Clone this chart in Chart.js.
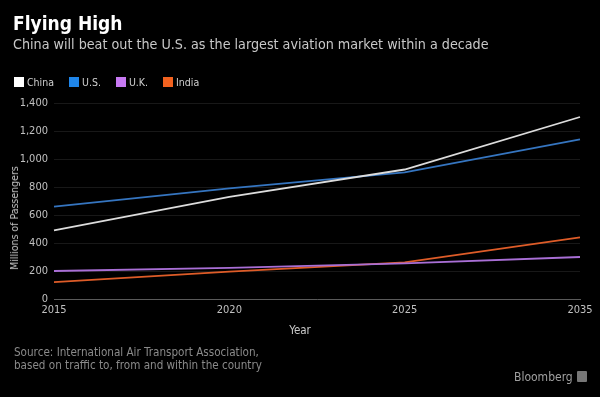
<!DOCTYPE html>
<html>
<head>
<meta charset="utf-8">
<script src="https://cdn.jsdelivr.net/npm/chart.js@4/dist/chart.umd.min.js"></script>
<style>
  html, body { margin:0; padding:0; background:#000; }
  #wrap { position:relative; width:600px; height:397px; background:#000; overflow:hidden;
          font-family:"DejaVu Sans Condensed","Open Sans",sans-serif; }
  #c { position:absolute; left:0; top:0; }
  .t { position:absolute; white-space:nowrap; }
  #title { left:13px; top:12px; font-size:19px; font-weight:bold; color:#fff; }
  #subtitle { left:13px; top:36px; font-size:14.2px; color:#c8c8c8; }
  #legend { left:14px; top:76px; font-size:10.5px; color:#d0d0d0; display:flex; }
  #legend .it { display:flex; align-items:center; margin-right:15px; }
  #legend .bx { width:10px; height:10px; margin-right:3px; }
  #ytitle { left:14px; top:218px; font-size:10.5px; color:#c8c8c8; transform:translate(-50%,-50%) rotate(-90deg); }
  #xtitle { left:300px; top:330px; font-size:11.5px; color:#c8c8c8; transform:translate(-50%,-50%); }
  #source { left:14px; top:346px; font-size:11.6px; line-height:13px; color:#8a8a8a; }
  #brand { left:514px; top:370px; font-size:12px; color:#a0a0a0; }
  #brand span { display:inline-block; width:10px; height:11px; background:#777; margin-left:4px; vertical-align:-1px; border-radius:1px; }
</style>
</head>
<body>
<div id="wrap">
  <canvas id="c" width="600" height="397"></canvas>
  <div class="t" id="title">Flying High</div>
  <div class="t" id="subtitle">China will beat out the U.S. as the largest aviation market within a decade</div>
  <div class="t" id="legend"></div>
  <div class="t" id="ytitle">Millions of Passengers</div>
  <div class="t" id="xtitle">Year</div>
  <div class="t" id="source">Source: International Air Transport Association,<br>based on traffic to, from and within the country</div>
  <div class="t" id="brand">Bloomberg<span></span></div>
</div>
<script>
const years = ["2015", "2020", "2025", "2035"];
const china = [490, 730, 925, 1300];
const us = [660, 790, 905, 1140];
const uk = [200, 222, 255, 300];
const india = [120, 195, 262, 440];
const seriesNames = ["China", "U.S.", "U.K.", "India"];
const lineColors = ["#dcdcdc", "#3575c0", "#a96fd6", "#de5c28"];
const boxColors = ["#ffffff", "#1f86ea", "#c779f2", "#f2621f"];
const yTicks = [0, 200, 400, 600, 800, 1000, 1200, 1400];

const values = [china, us, uk, india];
const datasets = values.map((v, i) => ({
  label: seriesNames[i],
  data: v,
  borderColor: lineColors[i],
  backgroundColor: lineColors[i],
  borderWidth: 1.8,
  pointRadius: 0,
  tension: 0,
  fill: false
}));

const lg = document.getElementById('legend');
seriesNames.forEach((n, i) => {
  const it = document.createElement('div'); it.className = 'it';
  const b = document.createElement('div'); b.className = 'bx'; b.style.background = boxColors[i];
  const s = document.createElement('span'); s.textContent = n;
  it.appendChild(b); it.appendChild(s); lg.appendChild(it);
});

const FONT = '"DejaVu Sans Condensed","Open Sans",sans-serif';
new Chart(document.getElementById('c'), {
  type: 'line',
  data: { labels: years, datasets: datasets },
  options: {
    responsive: false,
    animation: false,
    layout: { padding: { left: 0, right: 20, top: 103, bottom: 78 } },
    plugins: { legend: { display: false }, tooltip: { enabled: false } },
    scales: {
      x: {
        type: 'category',
        offset: false,
        grid: { display: false, drawTicks: false },
        border: { display: true, color: '#5a5a5a', width: 1 },
        ticks: { color: '#c0c0c0', font: { family: FONT, size: 11 }, padding: 5, maxRotation: 0 },
        afterFit: s => { s.height = 20; }
      },
      y: {
        min: yTicks[0], max: yTicks[yTicks.length - 1],
        afterBuildTicks: s => { s.ticks = yTicks.map(v => ({ value: v })); },
        grid: { color: '#181818', drawTicks: false },
        border: { display: false },
        ticks: { color: '#c0c0c0', font: { family: FONT, size: 11 }, padding: 6,
                 callback: v => v.toLocaleString('en-US') },
        afterFit: s => { s.width = 54; }
      }
    }
  }
});
</script>
</body>
</html>
